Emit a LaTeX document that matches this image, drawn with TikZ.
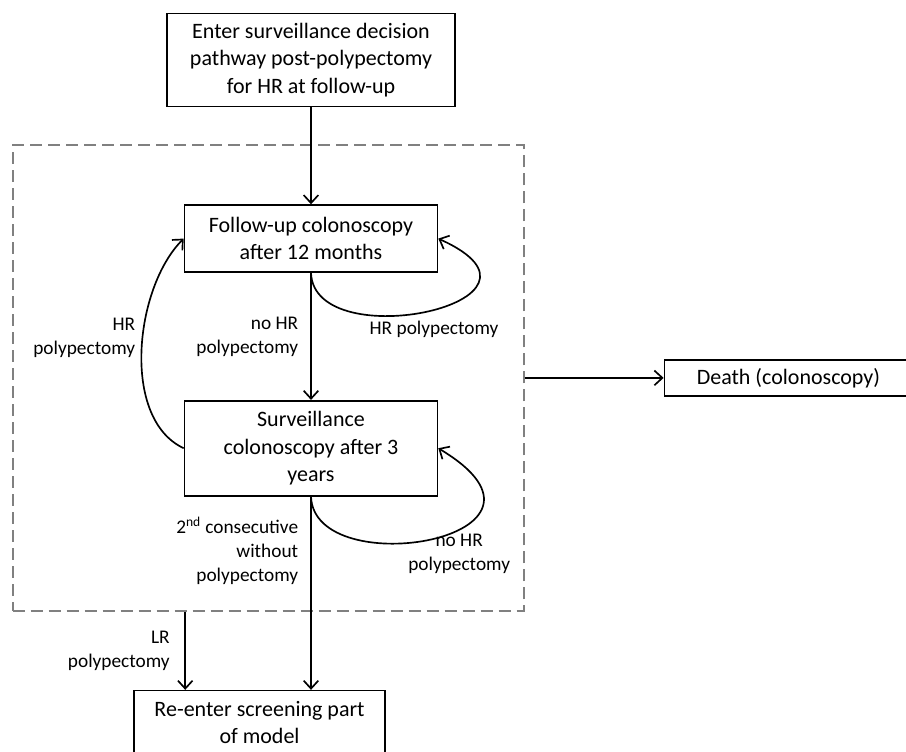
\documentclass[tikz,border=0pt]{standalone}
\usepackage{fontspec}
\setmainfont{Carlito}
\usepackage{tikz}
\usetikzlibrary{arrows.meta, positioning, fit}

\begin{document}
\begin{tikzpicture}[
    box/.style={rectangle, draw=black, line width=1.2pt, align=center,
                font=\fontsize{16.5}{20.6}\selectfont, inner sep=2pt},
    lbl/.style={font=\fontsize{14.5}{18}\selectfont, inner sep=3pt},
    arrow/.style={-{Straight Barb[length=6pt, width=11pt]}, line width=1.25pt},
    pathwaybox/.style={draw=black!50, dash pattern=on 9pt off 4.5pt, line width=1.5pt}
]
\useasboundingbox (-233.25pt,45pt) rectangle (446.25pt,-518.25pt);

% Entry and surveillance states
\node[box, minimum width=216pt, minimum height=69.75pt] (enter) at (0,0)
      {Enter surveillance decision\\pathway post-polypectomy\\for HR at follow-up};
\node[box, minimum width=189.75pt, minimum height=50.25pt, below=72.75pt of enter] (followup)
      {Follow-up colonoscopy\\after 12 months};
\node[box, minimum width=189.75pt, minimum height=71.25pt, below=95.25pt of followup] (surv)
      {Surveillance\\colonoscopy after 3\\years};

% Dashed frame round the pathway
\coordinate[above left=44.25pt and 128.25pt of followup.north west] (dnw);
\coordinate[below right=85.5pt and 64pt of surv.south east] (dse);
\node[pathwaybox, fit=(dnw)(dse), inner sep=0pt] (pathway) {};

% Exits
\node[box, minimum width=186pt, minimum height=27pt, right=104.25pt of pathway] (death)
      {Death (colonoscopy)};
\node[box, minimum width=188.25pt, minimum height=48pt, below=145pt of surv, xshift=-38.6pt] (reenter)
      {Re-enter screening part\\of model};

% Main flow
\draw[arrow] (enter) -- (followup);
\draw[arrow] (followup) -- node[lbl, left=6pt, align=right]{no HR\\polypectomy} (surv);
\draw[arrow] (surv.south) -- node[lbl, pos=0.28, left=6pt, align=right]{2\textsuperscript{nd} consecutive\\without\\polypectomy} (surv.south |- reenter.north);
\draw[arrow] ([xshift=39pt]reenter.north west |- pathway.south) --
    node[lbl, left=8pt, align=right]{LR\\polypectomy} ([xshift=39pt]reenter.north west);
\draw[arrow] (pathway.east) -- (death.west);

% Loops
\draw[arrow] (followup.south) .. controls +(2.25pt,-63.75pt) and +(105pt,-47.25pt) ..
    node[lbl, pos=0.52, below=5pt]{HR polypectomy} (followup.east);
\draw[arrow] (surv.south) .. controls +(2.25pt,-66pt) and +(112.5pt,-67.5pt) ..
    node[lbl, pos=0.6, below, align=center]{no HR\\polypectomy} (surv.east);
\draw[arrow] (surv.west) to[out=155, in=-135, looseness=0.85]
    node[lbl, pos=0.55, left=2pt, align=right]{HR\\polypectomy} (followup.west);

\end{tikzpicture}
\end{document}
